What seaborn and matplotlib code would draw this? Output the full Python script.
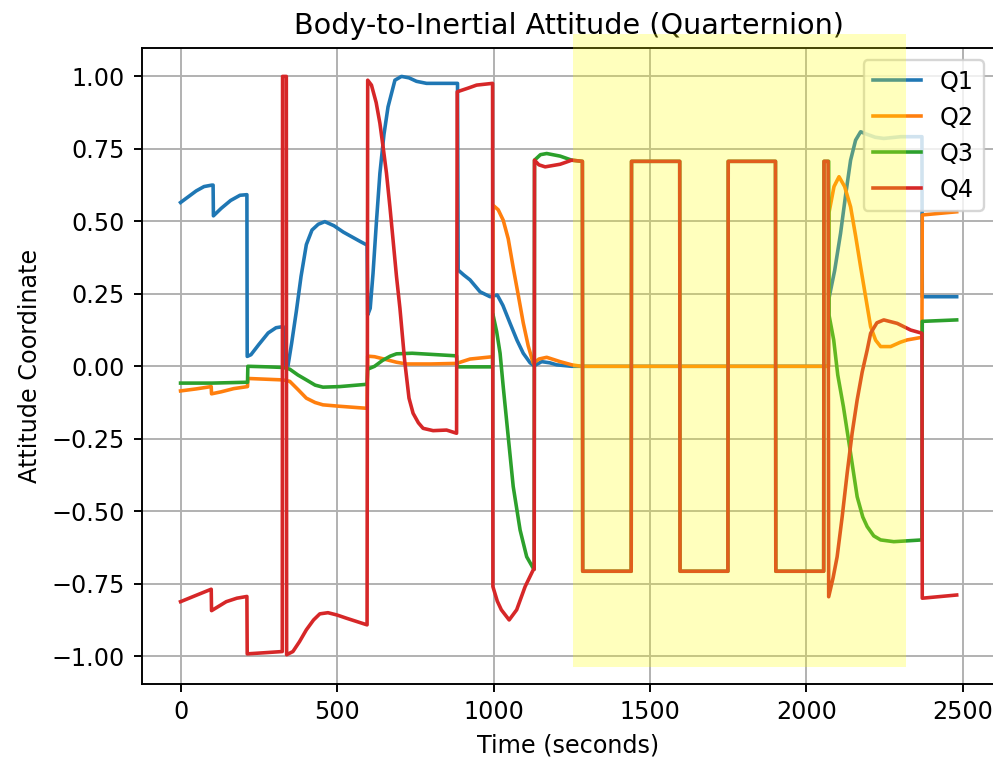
import matplotlib
matplotlib.use("Agg")
import matplotlib.pyplot as plt
from matplotlib.patches import Rectangle
import numpy as np
import seaborn as sns

# --- Data (time in seconds, quaternion components) ---
# a repeated time means a jump in the signal
q1_t = [0, 25, 50, 75, 100, 104, 105, 130, 160, 190, 212, 213, 225, 250, 280, 305, 328,
        330, 343, 355, 370, 385, 402, 420, 440, 461, 490, 520, 550, 575, 596,
        598, 606, 615, 626, 637, 650, 663, 685, 706, 730, 754, 786, 885,
        887, 905, 925, 957, 989, 1012, 1030, 1053, 1075, 1095, 1117, 1130, 1154, 1180, 1202, 1250,
        2070, 2072, 2090, 2109, 2125, 2141, 2157, 2173, 2194, 2220, 2247, 2301, 2369,
        2370, 2480]
q1_v = [0.565, 0.585, 0.605, 0.62, 0.625, 0.625, 0.519, 0.545, 0.572, 0.59, 0.592, 0.034, 0.04, 0.075, 0.115, 0.133, 0.137,
        0.0, 0.0, 0.08, 0.19, 0.31, 0.42, 0.47, 0.49, 0.499, 0.485, 0.463, 0.445, 0.43, 0.418,
        0.177, 0.2, 0.32, 0.5, 0.666, 0.8, 0.895, 0.987, 1.0, 0.995, 0.983, 0.976, 0.976,
        0.332, 0.315, 0.298, 0.257, 0.24, 0.246, 0.21, 0.148, 0.09, 0.045, 0.012, 0.002, 0.016, 0.012, 0.005, 0.0,
        0.0, 0.235, 0.33, 0.459, 0.59, 0.711, 0.78, 0.809, 0.80, 0.79, 0.786, 0.792, 0.792,
        0.24, 0.24]

q2_t = [0, 50, 98, 99, 130, 170, 214, 215, 260, 327, 349, 375, 402, 430, 455, 509, 596,
        598, 620, 650, 690, 722, 800, 882, 925, 997,
        998, 1015, 1031, 1047, 1063, 1080, 1095, 1111, 1127, 1145, 1170, 1213, 1250, 1280,
        2070, 2072, 2088, 2104, 2122, 2141, 2157, 2173, 2189, 2205, 2221, 2237, 2269, 2300, 2322, 2369,
        2370, 2480]
q2_v = [-0.085, -0.078, -0.070, -0.095, -0.088, -0.077, -0.070, -0.042, -0.044, -0.047, -0.052, -0.08, -0.11, -0.125, -0.133, -0.138, -0.145,
        0.035, 0.033, 0.025, 0.014, 0.008, 0.008, 0.01, 0.025, 0.033,
        0.556, 0.54, 0.504, 0.44, 0.34, 0.24, 0.15, 0.07, 0.01, 0.025, 0.031, 0.016, 0.005, 0.0,
        0.0, 0.53, 0.62, 0.654, 0.62, 0.55, 0.45, 0.343, 0.24, 0.137, 0.09, 0.068, 0.068, 0.083, 0.091, 0.1,
        0.522, 0.533]

q3_t = [0, 100, 214, 215, 280, 327, 349, 375, 402, 430, 455, 509, 596,
        598, 620, 645, 670, 690, 740, 882, 884, 997,
        998, 1010, 1021, 1031, 1047, 1063, 1085, 1106, 1127, 1130,
        1131, 1150, 1170, 1213, 1250, 1284,
        1285, 1440, 1441, 1595, 1596, 1749, 1750, 1901, 1902, 2055, 2056, 2071,
        2072, 2087, 2100, 2118, 2141, 2162, 2180, 2194, 2215, 2237, 2279, 2369,
        2370, 2480]
q3_v = [-0.058, -0.058, -0.055, 0.0, -0.002, -0.004, -0.01, -0.03, -0.047, -0.065, -0.072, -0.07, -0.062,
        -0.01, 0.0, 0.02, 0.035, 0.043, 0.045, 0.036, -0.002, -0.002,
        0.18, 0.12, 0.045, -0.07, -0.243, -0.415, -0.565, -0.657, -0.697, -0.70,
        0.711, 0.73, 0.734, 0.725, 0.711, 0.707,
        -0.707, -0.707, 0.707, 0.707, -0.707, -0.707, 0.707, 0.707, -0.707, -0.707, 0.707, 0.707,
        0.177, 0.091, -0.03, -0.139, -0.30, -0.45, -0.52, -0.553, -0.585, -0.599, -0.605, -0.599,
        0.155, 0.16]

q4_t = [0, 50, 98, 99, 146, 180, 212, 213, 270, 325,
        326, 338, 339, 359, 380, 402, 425, 445, 471, 500, 530, 596,
        598, 610, 625, 637, 648, 658, 669, 679, 690, 701, 716, 730, 743, 760, 775, 807, 850, 882,
        884, 920, 946, 997,
        998, 1012, 1025, 1050, 1074, 1101, 1127, 1130,
        1131, 1145, 1165, 1213, 1250, 1284,
        1285, 1440, 1441, 1595, 1596, 1749, 1750, 1901, 1902, 2055, 2056, 2069,
        2071, 2085, 2098, 2114, 2130, 2146, 2162, 2178, 2194, 2205, 2225, 2247, 2290, 2333, 2369,
        2370, 2480]
q4_v = [-0.812, -0.79, -0.769, -0.843, -0.812, -0.80, -0.794, -0.992, -0.988, -0.984,
        1.0, 1.0, -0.995, -0.984, -0.95, -0.909, -0.875, -0.854, -0.85, -0.858, -0.869, -0.892,
        0.987, 0.97, 0.91, 0.838, 0.75, 0.666, 0.55, 0.436, 0.31, 0.2, 0.02, -0.11, -0.162, -0.195, -0.214, -0.222, -0.22, -0.231,
        0.947, 0.96, 0.97, 0.976,
        -0.76, -0.81, -0.84, -0.875, -0.84, -0.76, -0.702, -0.70,
        0.711, 0.695, 0.688, 0.697, 0.711, 0.707,
        -0.707, -0.707, 0.707, 0.707, -0.707, -0.707, 0.707, 0.707, -0.707, -0.707, 0.707, 0.707,
        -0.795, -0.73, -0.657, -0.52, -0.369, -0.23, -0.116, -0.02, 0.056, 0.114, 0.15, 0.16, 0.148, 0.125, 0.114,
        -0.80, -0.789]

series_names = ["Q1", "Q2", "Q3", "Q4"]

# highlighted time window (seconds) and its vertical extent
highlight_t = [1255, 2319]
highlight_y = [-1.038, 1.148]

# --- Figure ---
DPI = 172
fig = plt.figure(figsize=(994 / DPI, 758 / DPI), dpi=DPI)
ax = fig.add_axes([0.1426, 0.098, 0.8589, 0.8383])

palette = sns.color_palette("tab10", 4)
all_t = [q1_t, q2_t, q3_t, q4_t]
all_v = [q1_v, q2_v, q3_v, q4_v]

for name, t, v, col in zip(series_names, all_t, all_v, palette):
    sns.lineplot(x=t, y=v, ax=ax, label=name, color=col,
                 estimator=None, sort=False, linewidth=1.5)

ax.set_xlim(-124, 2604)
ax.set_ylim(-1.095, 1.097)
ax.set_xticks(np.arange(0, 2501, 500))
ax.set_yticks(np.arange(-1.0, 1.01, 0.25))
ax.grid(True)

ax.set_title("Body-to-Inertial Attitude (Quarternion)")
ax.set_xlabel("Time (seconds)")
ax.set_ylabel("Attitude Coordinate")
ax.legend(loc="upper right")

# yellow highlight laid over the plot (also over the legend)
ax.add_patch(Rectangle((highlight_t[0], highlight_y[0]),
                       highlight_t[1] - highlight_t[0],
                       highlight_y[1] - highlight_y[0],
                       facecolor=(1.0, 1.0, 0.0), alpha=0.26, edgecolor="none",
                       clip_on=False, zorder=10))

fig.savefig("out.png", dpi=DPI)
